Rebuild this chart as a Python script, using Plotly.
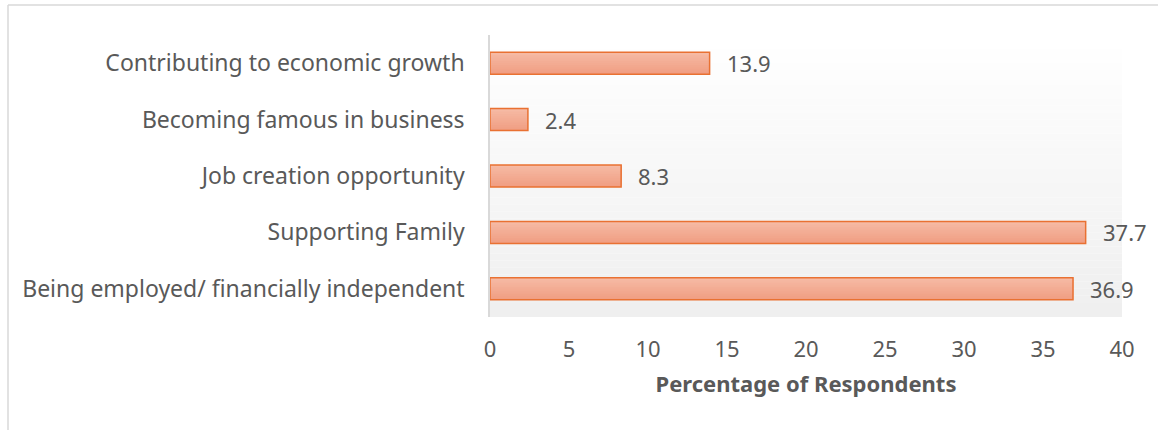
import plotly.graph_objects as go

# Survey data: motivations for entrepreneurship
categories = [
    "Being employed/ financially independent",
    "Supporting Family",
    "Job creation opportunity",
    "Becoming famous in business",
    "Contributing to economic growth",
]
values = [36.9, 37.7, 8.3, 2.4, 13.9]
x_ticks = [0, 5, 10, 15, 20, 25, 30, 35, 40]

W, H = 1158, 430
ML, MR, MT, MB = 490, 36, 35, 113
PW, PH = W - ML - MR, H - MT - MB

TEXT = "#595959"
FONT = "Noto Sans"
FS = 22
BAR_W = 0.39

fig = go.Figure()

# bar fill as a vertical gradient: nested layers that all reach the bar top,
# each one starting a little higher and a little lighter than the last
top_rgb = (246, 186, 164)
bot_rgb = (240, 158, 131)
n_layers = 12
step = BAR_W / n_layers
for k in range(n_layers):
    t = k / (n_layers - 1)
    r, g, b = (int(round(bot_rgb[j] + (top_rgb[j] - bot_rgb[j]) * t)) for j in range(3))
    fig.add_trace(go.Bar(
        x=values, y=categories, orientation="h",
        width=BAR_W - k * step, offset=-BAR_W / 2 + k * step,
        marker=dict(color=f"rgb({r},{g},{b})", line=dict(width=0)),
        hoverinfo="skip",
    ))

# bar outline
fig.add_trace(go.Bar(
    x=values, y=categories, orientation="h",
    width=BAR_W, offset=-BAR_W / 2,
    marker=dict(color="rgba(0,0,0,0)", line=dict(color="#E97132", width=1.5)),
    hoverinfo="x+y",
))

annotations = []
for c, v in zip(categories, values):
    annotations.append(dict(
        x=v, y=c, xref="x", yref="y", text=f"{v}", showarrow=False,
        xanchor="left", yanchor="middle", xshift=15,
        font=dict(family=FONT, size=FS, color=TEXT),
    ))

# vertical background gradient inside the plot area (white -> light gray)
shapes = []
n = 40
for i in range(n):
    t = i / (n - 1)
    g = int(round(255 - (255 - 239) * t))
    shapes.append(dict(
        type="rect", xref="x domain", yref="y domain",
        x0=0, x1=1, y0=1 - (i + 1) / n, y1=1 - i / n,
        fillcolor=f"rgb({g},{g},{g})", line=dict(width=0), layer="below",
    ))

# chart frame (left and top edges)
def px_x(p):
    return (p - ML) / PW

def px_y(p):
    return 1 - (p - MT) / PH

shapes.append(dict(type="line", xref="paper", yref="paper",
                   x0=px_x(8), x1=px_x(8), y0=px_y(5), y1=px_y(H + 5),
                   line=dict(color="#D9D9D9", width=1.5)))
shapes.append(dict(type="line", xref="paper", yref="paper",
                   x0=px_x(8), x1=px_x(W + 5), y0=px_y(5), y1=px_y(5),
                   line=dict(color="#D9D9D9", width=1.5)))

fig.update_layout(
    width=W, height=H,
    margin=dict(l=ML, r=MR, t=MT, b=MB),
    paper_bgcolor="white",
    plot_bgcolor="rgba(0,0,0,0)",
    showlegend=False,
    barmode="overlay",
    font=dict(family=FONT, color=TEXT, size=FS),
    annotations=annotations,
    shapes=shapes,
    xaxis=dict(
        range=[0, 40], tickvals=x_ticks, showgrid=False, zeroline=False,
        showline=False, ticks="", ticklabelstandoff=17,
        tickfont=dict(family=FONT, size=FS, color=TEXT),
        title=dict(text="<b>Percentage of Respondents</b>", standoff=14,
                   font=dict(family=FONT, size=FS, color=TEXT)),
    ),
    yaxis=dict(
        showgrid=False, zeroline=False, showline=True,
        linecolor="#D9D9D9", linewidth=1.5, ticks="", ticklabelstandoff=19,
        tickfont=dict(family=FONT, size=23, color=TEXT),
        categoryorder="array", categoryarray=categories,
    ),
)

fig.write_html("out.html")
